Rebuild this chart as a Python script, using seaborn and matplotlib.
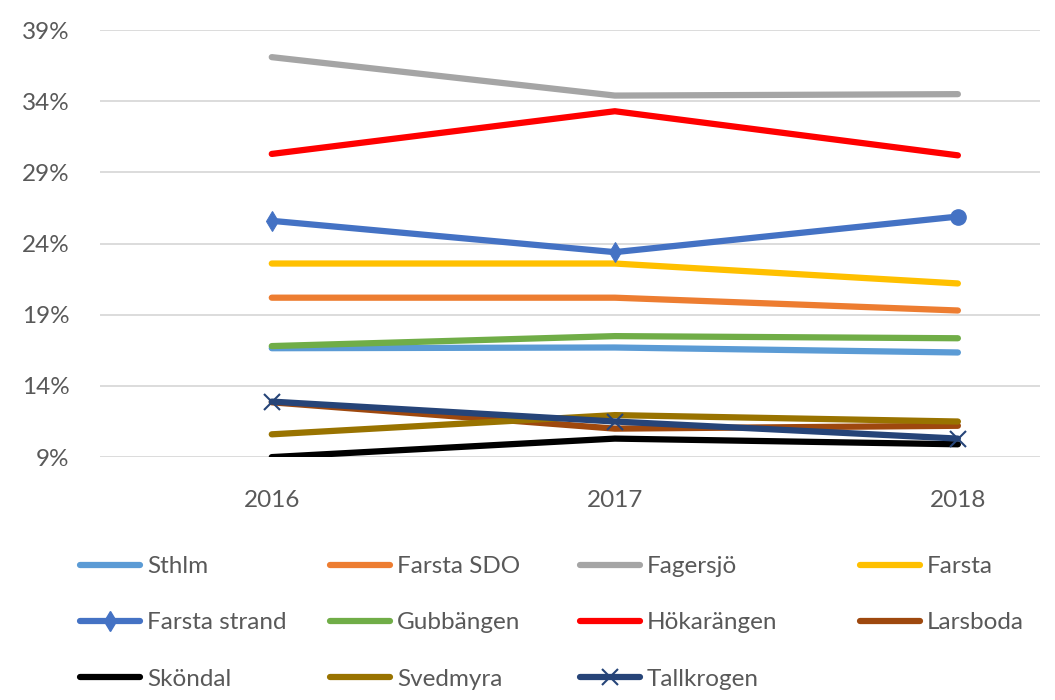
import numpy as np
import pandas as pd
import seaborn as sns
import matplotlib.pyplot as plt
from matplotlib.lines import Line2D

sns.set_theme(style="white")
plt.rcParams['font.family'] = ['Lato', 'DejaVu Sans']

years = [2016, 2017, 2018]
year_labels = ["2016", "2017", "2018"]
yticks = [9, 14, 19, 24, 29, 34, 39]

sthlm = [16.65, 16.7, 16.35]
farsta_sdo = [20.2, 20.2, 19.3]
fagersjo = [37.1, 34.4, 34.5]
farsta = [22.6, 22.6, 21.2]
farsta_strand = [25.6, 23.4, 25.9]
gubbangen = [16.8, 17.5, 17.35]
hokarangen = [30.3, 33.3, 30.2]
larsboda = [12.85, 11.0, 11.2]
skondal = [9.0, 10.3, 9.9]
svedmyra = [10.6, 11.95, 11.5]
tallkrogen = [12.9, 11.5, 10.3]

names = ["Sthlm", "Farsta SDO", "Fagersjö", "Farsta", "Farsta strand", "Gubbängen",
         "Hökarängen", "Larsboda", "Sköndal", "Svedmyra", "Tallkrogen"]
series = [sthlm, farsta_sdo, fagersjo, farsta, farsta_strand, gubbangen,
          hokarangen, larsboda, skondal, svedmyra, tallkrogen]
colors = ["#5B9BD5", "#ED7D31", "#A5A5A5", "#FFC000", "#4472C4", "#70AD47",
          "#FF0000", "#9E480E", "#000000", "#997300", "#264478"]

fig = plt.figure(figsize=(10.55, 7), dpi=100)
ax = fig.add_axes([0.095, 0.347, 0.891, 0.610])

txt = "#595959"
handles = []
for name, vals, c in zip(names, series, colors):
    if name == "Farsta strand":
        sns.lineplot(x=years, y=vals, color=c, lw=4.5, ax=ax, marker="d", markersize=10,
                     markevery=[0, 1], markeredgecolor=c, sort=False)
        ax.plot(years[-1], vals[-1], "o", color=c, markersize=11)
        h = Line2D([], [], color=c, lw=4.5, marker="d", markersize=10, markeredgecolor=c)
    elif name == "Tallkrogen":
        sns.lineplot(x=years, y=vals, color=c, lw=4.5, ax=ax, marker="x", markersize=12,
                     markeredgewidth=1.5, markeredgecolor=c, sort=False)
        h = Line2D([], [], color=c, lw=4.5, marker="x", markersize=12, markeredgewidth=1.5)
    else:
        sns.lineplot(x=years, y=vals, color=c, lw=4.5, ax=ax, sort=False)
        h = Line2D([], [], color=c, lw=4.5)
    h.set_solid_capstyle("round")
    handles.append(h)

for l in ax.get_lines():
    l.set_solid_capstyle("round")

ax.set_ylim(9, 39)
ax.set_yticks(yticks)
ax.set_yticklabels([f"{v}%" for v in yticks])
ax.set_xlim(2015.5, 2018.24)
ax.set_xticks(years)
ax.set_xticklabels(year_labels)
ax.grid(axis="y", color="#D9D9D9", lw=1.3)
ax.set_axisbelow(True)
for s in ax.spines.values():
    s.set_visible(False)
ax.tick_params(axis="both", length=0, labelsize=17.5, colors=txt)
ax.tick_params(axis="x", pad=24)
ax.tick_params(axis="y", pad=22)
ax.set_xlabel("")
ax.set_ylabel("")

# legend laid out row by row, one column at a time
col_x = [80, 330, 580, 860]
for j, x0 in enumerate(col_x):
    idx = list(range(j, len(names), 4))
    fig.legend([handles[i] for i in idx], [names[i] for i in idx], loc="upper left",
               bbox_to_anchor=(x0 / 1055, 1 - 556 / 700), frameon=False, fontsize=17.5,
               labelcolor=txt, handlelength=2.45, handletextpad=0.3, labelspacing=1.45,
               borderpad=0, borderaxespad=0)

fig.savefig("out.png", dpi=100)
